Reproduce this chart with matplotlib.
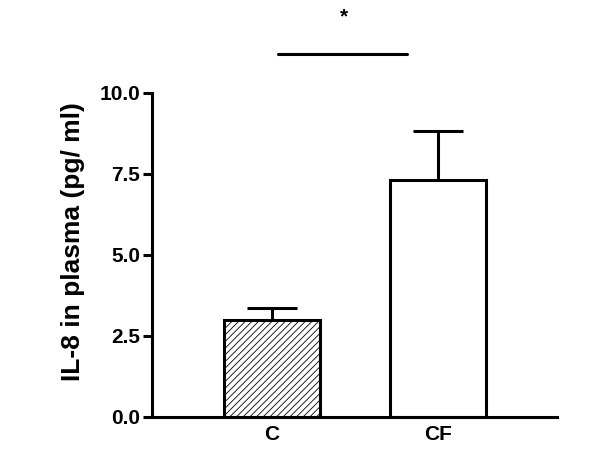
import matplotlib
matplotlib.use("Agg")
import matplotlib.pyplot as plt

categories = ["C", "CF"]
means = [2.97, 7.31]
errors = [0.40, 1.52]
hatches = ["/////", ""]
sig_y = 11.2
sig_label = "*"
yticks = [0.0, 2.5, 5.0, 7.5, 10.0]
ylabel = "IL-8 in plasma (pg/ ml)"

plt.rcParams['font.family'] = ['Liberation Sans', 'DejaVu Sans']
plt.rcParams['hatch.linewidth'] = 0.6
plt.rcParams['hatch.color'] = '#444444'

fig = plt.figure(figsize=(6.0, 4.72), dpi=100)
ax = fig.add_axes([152/600, 1 - 416.7/472, (557-152)/600, (416.7-92.7)/472])

x = [1, 2]
for xi, m, e, h in zip(x, means, errors, hatches):
    ax.bar(xi, m, width=0.58, color='white', edgecolor='black', linewidth=2.2,
           hatch=h, zorder=2)
    ax.plot([xi, xi], [m, m + e], color='black', lw=2.2, zorder=1, solid_capstyle='butt')
    ax.plot([xi - 0.15, xi + 0.15], [m + e, m + e], color='black', lw=2.2, zorder=1,
            solid_capstyle='butt')

ax.set_xlim(0.275, 2.72)
ax.set_ylim(0, 10)
ax.set_yticks(yticks)
ax.set_yticklabels([f"{t:.1f}" for t in yticks], fontsize=15, fontweight='bold')
ax.set_xticks(x)
ax.set_xticklabels(categories, fontsize=15, fontweight='bold')
ax.tick_params(axis='x', length=0, pad=6)
ax.tick_params(axis='y', length=6.5, width=2.2, pad=2)
ax.set_ylabel(ylabel, fontsize=19, fontweight='bold')
ax.yaxis.set_label_coords(-0.165, 0.54)

for s in ['top', 'right']:
    ax.spines[s].set_visible(False)
for s in ['left', 'bottom']:
    ax.spines[s].set_linewidth(2.2)

# significance bar
ax.plot([1.035, 1.815], [sig_y, sig_y], color='black', lw=2.2, clip_on=False,
        solid_capstyle='round')
ax.text(1.435, 12.35, sig_label, ha='center', va='center', fontsize=15,
        fontweight='bold', clip_on=False)

fig.savefig("out.png", dpi=100)
